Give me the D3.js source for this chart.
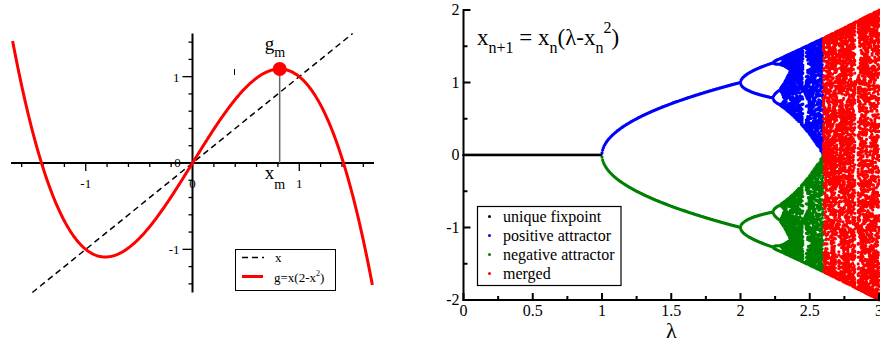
<!DOCTYPE html>
<html>
<head>
<meta charset="utf-8">
<script src="https://cdn.jsdelivr.net/npm/d3@7"></script>
<style>
  html, body { margin: 0; padding: 0; background: #fff; }
  svg { display: block; }
  svg text { font-family: "Liberation Serif", "DejaVu Serif", serif; }
</style>
</head>
<body>
<svg id="chart" width="880" height="343" font-family="Liberation Serif, DejaVu Serif, serif"></svg>
<script>
// ---------- Left panel: cubic map g(x) = x(2 - x^2) against the diagonal ----------
const curveDomain = [-1.685, 1.685];          // x range of the red curve
const diagonalDomain = [-1.5, 1.5];           // x range of the dashed y = x line
const leftXTicks = d3.range(-8, 9).map(i => i / 5).filter(v => Math.abs(v) > 1e-9);
const leftYTicks = d3.range(-7, 8).map(i => i / 5).filter(v => Math.abs(v) > 1e-9);
const leftXLabels = [-1, 1];
const leftYLabels = [-1, 1];
const gParam = 2;                              // g = x(gParam - x^2)
const leftLegend = ["x", "g=x(2-x"];

// ---------- Right panel: bifurcation of x_{n+1} = x_n(λ - x_n^2) ----------
const lambdaRange = [0, 3];
const lambdaSteps = 600;                       // λ sampled every 0.005
const transientIters = 600;
const keptIters = 40;
const keptItersMerged = 65;
const lambdaFix = 1;                           // below: unique fixpoint 0
const lambdaMerge = 3 * Math.sqrt(3) / 2;      // above: the two attractors merge
const rightXTicksMajor = [0, 0.5, 1, 1.5, 2, 2.5, 3];
const rightXTicksMinor = [0.25, 0.75, 1.25, 1.75, 2.25, 2.75];
const rightYTicksMajor = [-2, -1, 0, 1, 2];
const rightYTicksMinor = [-1.5, -0.5, 0.5, 1.5];
const seriesNames = ["unique fixpoint", "positive attractor", "negative attractor", "merged"];

const seriesColor = {
  "unique fixpoint": "#000000",
  "positive attractor": "#0000ff",
  "negative attractor": "#008000",
  "merged": "#ff0000"
};
const FONT = "'Liberation Serif', 'DejaVu Serif', serif";

const svg = d3.select("#chart");

// ===== Left panel =====
const xL = d3.scaleLinear().domain([-1.7, 1.7]).range([11, 374]);
const yL = d3.scaleLinear().domain([-1.5, 1.5]).range([292.5, 33.5]);
const g = x => x * (gParam - x * x);

const left = svg.append("g");

// axes through the origin
left.append("line").attr("x1", xL(-1.7)).attr("x2", xL(1.7))
  .attr("y1", yL(0)).attr("y2", yL(0)).attr("stroke", "#000").attr("stroke-width", 2);
left.append("line").attr("x1", xL(0)).attr("x2", xL(0))
  .attr("y1", yL(1.5)).attr("y2", yL(-1.5)).attr("stroke", "#000").attr("stroke-width", 2);

left.selectAll(".xt").data(leftXTicks).join("line")
  .attr("x1", d => xL(d)).attr("x2", d => xL(d))
  .attr("y1", yL(0)).attr("y2", d => yL(0) + (Math.abs(Math.abs(d) - 1) < 1e-9 ? 8 : 4))
  .attr("stroke", "#000").attr("stroke-width", 1.3);
left.selectAll(".yt").data(leftYTicks).join("line")
  .attr("y1", d => yL(d)).attr("y2", d => yL(d))
  .attr("x1", xL(0)).attr("x2", d => xL(0) - (Math.abs(Math.abs(d) - 1) < 1e-9 ? 10 : 4))
  .attr("stroke", "#000").attr("stroke-width", 1.3);

left.selectAll(".xl").data(leftXLabels).join("text")
  .attr("x", d => xL(d)).attr("y", yL(0) + 25).attr("text-anchor", "middle")
  .attr("font-size", 13).text(d => d);
left.selectAll(".yl").data(leftYLabels).join("text")
  .attr("x", xL(0) - 13).attr("y", d => yL(d) + 5).attr("text-anchor", "end")
  .attr("font-size", 13).text(d => d);
left.append("text").attr("x", xL(0)).attr("y", yL(0) + 25).attr("text-anchor", "middle")
  .attr("font-size", 13).text("0");
left.append("text").attr("x", xL(0) - 15).attr("y", yL(0) + 4).attr("text-anchor", "middle")
  .attr("font-size", 13).text("0");

// diagonal y = x
left.append("line")
  .attr("x1", xL(diagonalDomain[0])).attr("y1", yL(diagonalDomain[0]))
  .attr("x2", xL(diagonalDomain[1])).attr("y2", yL(diagonalDomain[1]))
  .attr("stroke", "#000").attr("stroke-width", 1.5).attr("stroke-dasharray", "6,4");

// red curve
const curveX = d3.range(0, 401).map(i => curveDomain[0] + (curveDomain[1] - curveDomain[0]) * i / 400);
left.append("path")
  .attr("d", d3.line().x(d => xL(d)).y(d => yL(g(d)))(curveX))
  .attr("fill", "none").attr("stroke", "#ff0000").attr("stroke-width", 3);

// maximum of g
const xm = Math.sqrt(gParam / 3);
const gm = g(xm);
left.append("line").attr("x1", xL(xm)).attr("x2", xL(xm))
  .attr("y1", yL(gm)).attr("y2", yL(0)).attr("stroke", "#666").attr("stroke-width", 1.5);
left.append("circle").attr("cx", xL(xm)).attr("cy", yL(gm)).attr("r", 7).attr("fill", "#ff0000");

const gmLabel = left.append("text").attr("x", xL(xm) - 15).attr("y", yL(gm) - 19).attr("font-size", 19);
gmLabel.append("tspan").text("g");
gmLabel.append("tspan").attr("dy", 7).attr("font-size", 14).text("m");
const xmLabel = left.append("text").attr("x", xL(xm) - 15).attr("y", yL(0) + 16).attr("font-size", 19);
xmLabel.append("tspan").text("x");
xmLabel.append("tspan").attr("dy", 10).attr("font-size", 14).text("m");

// small stray tick near the curve
left.append("line").attr("x1", 234.5).attr("x2", 234.5).attr("y1", 69).attr("y2", 75)
  .attr("stroke", "#000").attr("stroke-width", 1);

// legend
const ll = left.append("g");
ll.append("rect").attr("x", 235.5).attr("y", 249.5).attr("width", 100).attr("height", 41)
  .attr("fill", "#fff").attr("stroke", "#000").attr("stroke-width", 1);
ll.append("line").attr("x1", 242).attr("x2", 264).attr("y1", 257.5).attr("y2", 257.5)
  .attr("stroke", "#000").attr("stroke-width", 1.5).attr("stroke-dasharray", "6,4");
ll.append("text").attr("x", 275).attr("y", 262).attr("font-size", 13).text(leftLegend[0]);
ll.append("line").attr("x1", 242).attr("x2", 263).attr("y1", 276.5).attr("y2", 276.5)
  .attr("stroke", "#ff0000").attr("stroke-width", 3);
const lt = ll.append("text").attr("x", 274).attr("y", 282).attr("font-size", 13);
lt.append("tspan").text(leftLegend[1]);
lt.append("tspan").attr("dy", -6).attr("font-size", 8).text("2");
lt.append("tspan").attr("dy", 6).text(")");

// ===== Right panel =====
const xR = d3.scaleLinear().domain(lambdaRange).range([463.5, 879]);
const yR = d3.scaleLinear().domain([-2, 2]).range([300, 10]);

const right = svg.append("g");

// iterate the map and sort the orbit points into the four series
const points = { "unique fixpoint": [], "positive attractor": [], "negative attractor": [], "merged": [] };
function orbit(lam, x0, n) {
  let x = x0;
  for (let i = 0; i < transientIters; i++) x = x * (lam - x * x);
  const out = [];
  for (let i = 0; i < n; i++) { x = x * (lam - x * x); out.push(x); }
  return out;
}
for (let i = 0; i <= lambdaSteps; i++) {
  const lam = Math.round((lambdaRange[0] + (lambdaRange[1] - lambdaRange[0]) * i / lambdaSteps) * 1e9) / 1e9;
  if (lam < lambdaFix) {
    orbit(lam, 0.5, keptIters).forEach(x => points["unique fixpoint"].push([lam, x]));
  } else if (lam < lambdaMerge) {
    orbit(lam, 0.5, keptIters).forEach(x => points["positive attractor"].push([lam, x]));
    orbit(lam, -0.5, keptIters).forEach(x => points["negative attractor"].push([lam, x]));
  } else {
    orbit(lam, 0.5, keptItersMerged).forEach(x => points["merged"].push([lam, x]));
  }
}

const dotR = { "unique fixpoint": 1.3, "positive attractor": 1.6, "negative attractor": 1.6, "merged": 1.6 };
seriesNames.forEach(name => {
  const seen = new Set();
  const p = d3.path();
  const r = dotR[name];
  points[name].forEach(([lam, x]) => {
    const px = xR(lam), py = yR(x);
    const key = Math.round(px * 2) + "," + Math.round(py * 2);
    if (seen.has(key)) return;
    seen.add(key);
    p.moveTo(px + r, py);
    p.arc(px, py, r, 0, 2 * Math.PI);
  });
  right.append("path").attr("d", p.toString()).attr("fill", seriesColor[name]);
});

// axes (left and bottom only, ticks pointing inward)
right.append("line").attr("x1", xR(0)).attr("x2", xR(0)).attr("y1", yR(2) - 1).attr("y2", yR(-2) + 1)
  .attr("stroke", "#000").attr("stroke-width", 2);
right.append("line").attr("x1", xR(0) - 1).attr("x2", 880).attr("y1", yR(-2)).attr("y2", yR(-2))
  .attr("stroke", "#000").attr("stroke-width", 2);

right.selectAll(".ryt").data(rightYTicksMajor.map(v => [v, 7]).concat(rightYTicksMinor.map(v => [v, 4]))).join("line")
  .attr("x1", xR(0)).attr("x2", d => xR(0) + d[1]).attr("y1", d => yR(d[0])).attr("y2", d => yR(d[0]))
  .attr("stroke", "#000").attr("stroke-width", 2);
right.selectAll(".rxt").data(rightXTicksMajor.map(v => [v, 7]).concat(rightXTicksMinor.map(v => [v, 4]))).join("line")
  .attr("y1", yR(-2)).attr("y2", d => yR(-2) - d[1]).attr("x1", d => xR(d[0])).attr("x2", d => xR(d[0]))
  .attr("stroke", "#000").attr("stroke-width", 2);

right.selectAll(".ryl").data(rightYTicksMajor).join("text")
  .attr("x", xR(0) - 4).attr("y", d => yR(d) + 5).attr("text-anchor", "end")
  .attr("font-size", 16).text(d => d);
right.selectAll(".rxl").data(rightXTicksMajor).join("text")
  .attr("x", d => xR(d)).attr("y", yR(-2) + 16).attr("text-anchor", "middle")
  .attr("font-size", 16).text(d => d);
right.append("text").attr("x", xR(1.5)).attr("y", 338).attr("text-anchor", "middle")
  .attr("font-size", 22).text("λ");

// map formula
const title = right.append("text").attr("x", 477).attr("y", 45).attr("font-size", 23);
title.append("tspan").text("x");
title.append("tspan").attr("dy", 8).attr("font-size", 16).text("n+1");
title.append("tspan").attr("dy", -8).text(" = x");
title.append("tspan").attr("dy", 8).attr("font-size", 16).text("n");
title.append("tspan").attr("dy", -8).text("(λ-x");
title.append("tspan").attr("dy", 8).attr("font-size", 16).text("n");
title.append("tspan").attr("dy", -20).attr("font-size", 16).text("2");
title.append("tspan").attr("dy", 12).text(")");

// legend
const rl = right.append("g");
rl.append("rect").attr("x", 477.5).attr("y", 206.5).attr("width", 143.5).attr("height", 79)
  .attr("fill", "#fff").attr("stroke", "#000").attr("stroke-width", 1.2);
seriesNames.forEach((name, i) => {
  const cy = 216.5 + i * 19;
  rl.append("circle").attr("cx", 489.5).attr("cy", cy).attr("r", 1.5).attr("fill", seriesColor[name]);
  rl.append("text").attr("x", 503).attr("y", cy + 5).attr("font-size", 16).text(name);
});

svg.selectAll("text").style("font-family", FONT);
</script>
</body>
</html>
